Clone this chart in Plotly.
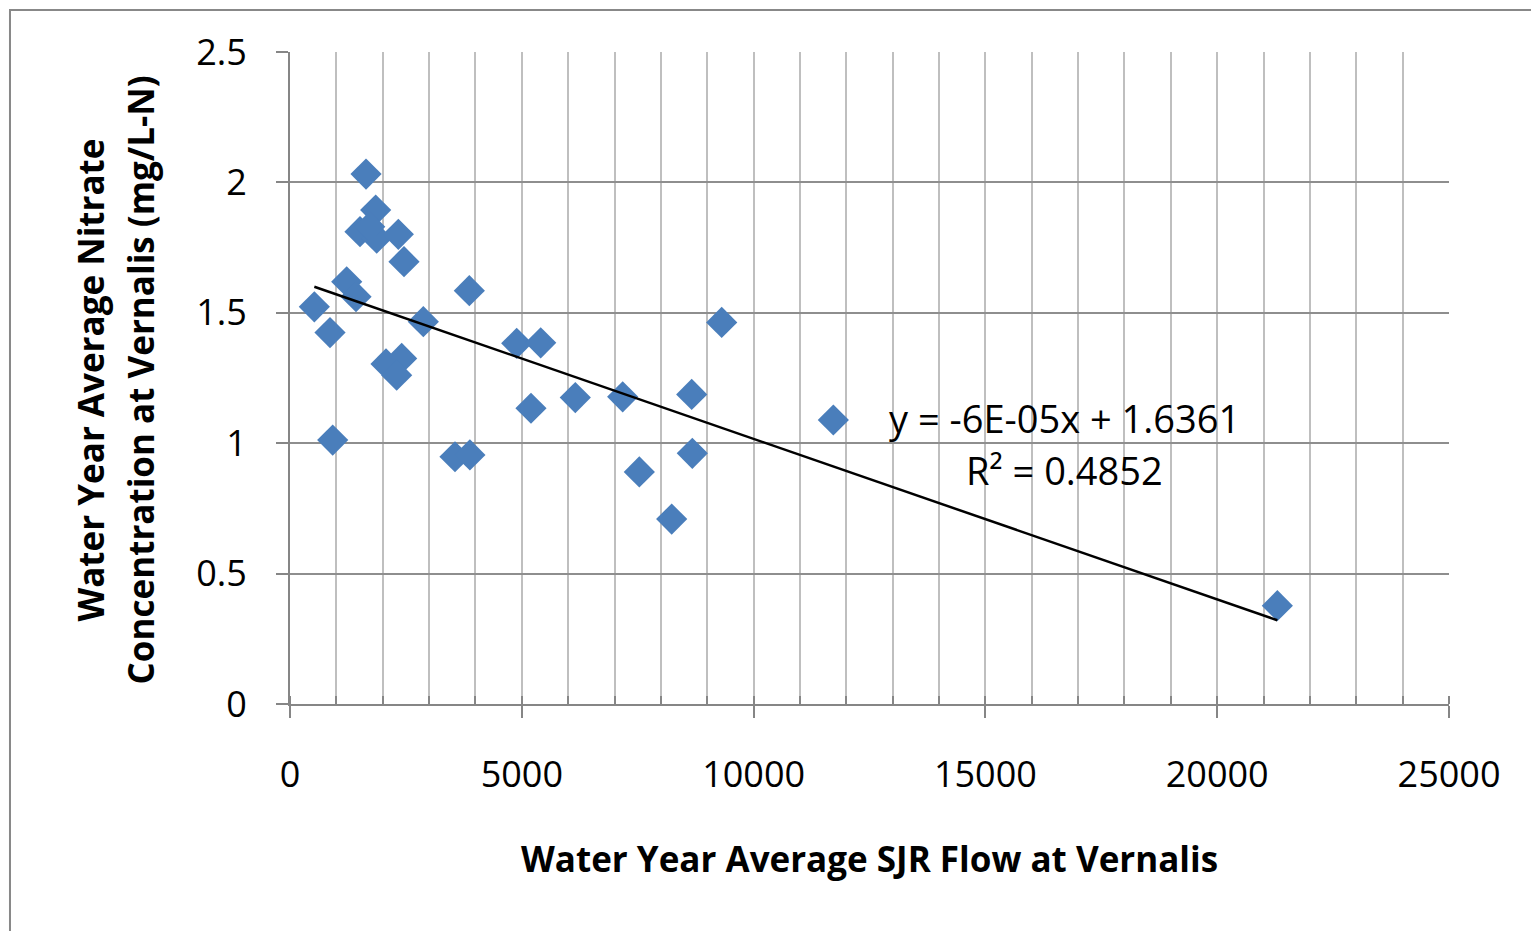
import numpy as np
import plotly.graph_objects as go

# Data
flow = [525, 863, 921, 1223, 1424, 1640, 1510, 1848, 1870, 1720, 2337, 2459,
        2876, 3868, 2071, 2409, 2301, 4890, 5408, 9312, 5198, 6154, 7176, 8665,
        3559, 3880, 7535, 8678, 8233, 11720, 21297]
nitrate = [1.523, 1.424, 1.012, 1.619, 1.562, 2.032, 1.811, 1.894, 1.786, 1.83,
           1.801, 1.696, 1.466, 1.585, 1.304, 1.325, 1.261, 1.383, 1.385, 1.463,
           1.134, 1.175, 1.178, 1.187, 0.948, 0.955, 0.890, 0.961, 0.709, 1.089,
           0.377]
eq_text = "y = -6E-05x + 1.6361"
r2_text = "R² = 0.4852"
x_title = "Water Year Average SJR Flow at Vernalis"
y_title_1 = "Water Year Average Nitrate"
y_title_2 = "Concentration at Vernalis (mg/L-N)"

xs = np.array(flow, dtype=float)
ys = np.array(nitrate, dtype=float)
slope, intercept = np.polyfit(xs, ys, 1)
tx = [xs.min(), xs.max()]
ty = [slope * v + intercept for v in tx]

FONT = "Open Sans"
fig = go.Figure()
fig.add_trace(go.Scatter(x=flow, y=nitrate, mode="markers",
                         marker=dict(symbol="diamond", size=24, color="#4A7EBB",
                                     line=dict(width=0)),
                         showlegend=False))
fig.add_trace(go.Scatter(x=tx, y=ty, mode="lines",
                         line=dict(color="black", width=2.5), showlegend=False))

fig.update_layout(
    width=1531, height=923,
    margin=dict(l=282, r=90, t=44, b=227),
    paper_bgcolor="white", plot_bgcolor="white",
    font=dict(family=FONT, size=36, color="black"),
    showlegend=False,
)
fig.update_xaxes(
    range=[0, 25000], dtick=5000, tick0=0, tickformat="d",
    showgrid=True, gridcolor="#BFBFBF", gridwidth=2,
    minor=dict(dtick=1000, showgrid=True, gridcolor="#BFBFBF", gridwidth=2,
               ticks="inside", ticklen=8, tickcolor="#868686", tickwidth=2),
    showline=True, linecolor="#868686", linewidth=2,
    ticks="outside", ticklen=12, tickcolor="#868686", tickwidth=2,
    tickfont=dict(family=FONT, size=36), ticklabelstandoff=26,
    zeroline=False,
)
fig.update_yaxes(
    range=[0, 2.5], dtick=0.5, tick0=0,
    showgrid=True, gridcolor="#8E8E8E", gridwidth=2,
    showline=True, linecolor="#868686", linewidth=2,
    ticks="outside", ticklen=12, tickcolor="#868686", tickwidth=2,
    tickfont=dict(family=FONT, size=36), ticklabelstandoff=22,
    zeroline=False,
)

# axis titles
fig.add_annotation(text=f"<b>{x_title}</b>", xref="paper", yref="paper",
                   x=0.5, y=-0.237, xanchor="center", yanchor="middle",
                   showarrow=False, font=dict(family=FONT, size=35))
fig.add_annotation(text=f"<b>{y_title_1}</b>", xref="paper", yref="paper",
                   x=-0.172, y=0.497, xanchor="center", yanchor="middle",
                   textangle=-90, showarrow=False, font=dict(family=FONT, size=35))
fig.add_annotation(text=f"<b>{y_title_2}</b>", xref="paper", yref="paper",
                   x=-0.129, y=0.497, xanchor="center", yanchor="middle",
                   textangle=-90, showarrow=False, font=dict(family=FONT, size=35))

# trendline equation
fig.add_annotation(text=eq_text, x=16700, y=1.095, xref="x", yref="y",
                   showarrow=False, xanchor="center", yanchor="middle",
                   font=dict(family=FONT, size=38))
fig.add_annotation(text=r2_text, x=16700, y=0.898, xref="x", yref="y",
                   showarrow=False, xanchor="center", yanchor="middle",
                   font=dict(family=FONT, size=38))

# outer chart border
fig.add_shape(type="rect", xref="paper", yref="paper",
              x0=-0.2416, y0=-0.5, x1=1.3, y1=1.0644,
              line=dict(color="#888888", width=2), fillcolor="rgba(0,0,0,0)",
              layer="below")

fig.write_html("out.html")
